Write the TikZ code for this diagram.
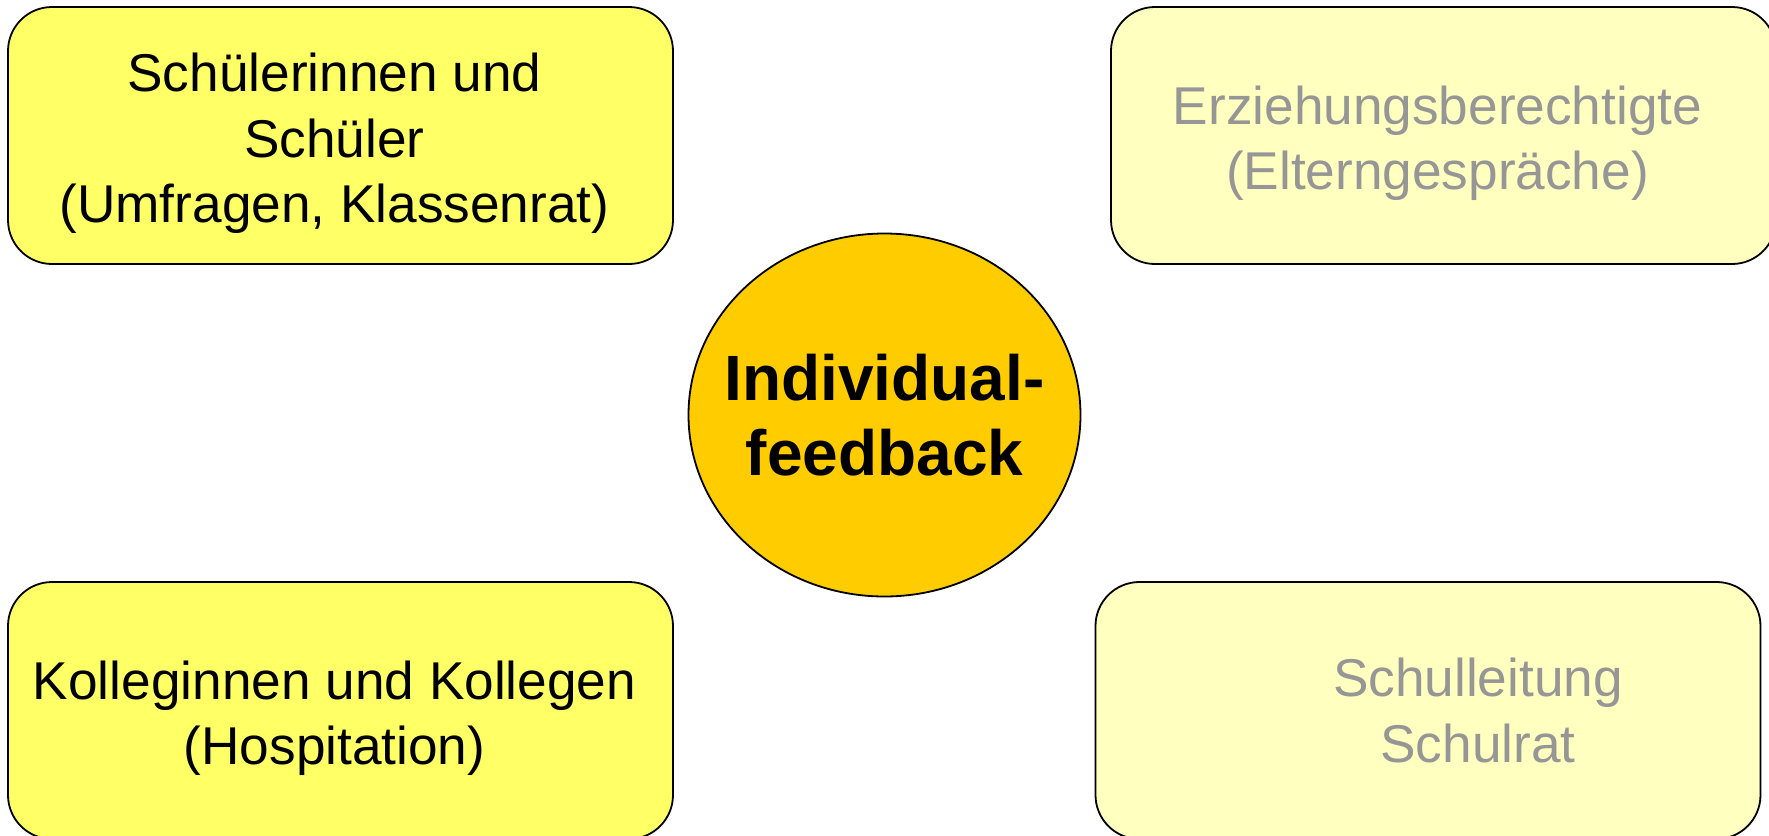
\documentclass[tikz,border=0pt]{standalone}
\usepackage{fontspec}
\setmainfont{Liberation Sans}
\usetikzlibrary{shapes.geometric}
\begin{document}
\begin{tikzpicture}[x=0.5pt,y=-0.5pt]
\tikzset{box/.style={rectangle,rounded corners=22pt,draw=black,line width=0.9pt,
    minimum width=332.5pt,minimum height=128.5pt,inner sep=0pt}}

\definecolor{lemon}{HTML}{FFFF66}
\definecolor{cream}{HTML}{FFFFC0}
\definecolor{amber}{HTML}{FFCC00}
\definecolor{ash}{HTML}{969696}

\tikzset{boxlemon/.style={box,fill=lemon},boxcream/.style={box,fill=cream},
    txt/.style={align=center,inner sep=0pt,font=\fontsize{26.6}{32.7}\selectfont},
    txtash/.style={txt,text=ash}}

\useasboundingbox (0,0) rectangle (1769,836);

\node[boxlemon] (b1) at (340.5,135.5) {};
\node[boxcream] (b2) at (1443.5,135.5) {};
\node[boxlemon] (b3) at (340.5,710.5) {};
\node[boxcream] (b4) at (1428,710.5) {};

\node[txt] (t1) at ([xshift=-3pt,yshift=-4pt]b1.center) {Schülerinnen und\\Schüler\\(Umfragen, Klassenrat)};
\node[txtash] (t2) at ([xshift=-3pt,yshift=-4pt]b2.center) {Erziehungsberechtigte\\(Elterngespräche)};
\node[txt] (t3) at ([xshift=-3pt,yshift=-4pt]b3.center) {Kolleginnen und Kollegen\\(Hospitation)};
\node[txtash] (t4) at ([xshift=25pt]b4.center) {Schulleitung\\Schulrat};

\node[ellipse,draw=black,line width=0.9pt,fill=amber,minimum width=196pt,minimum height=181.5pt,
    inner sep=0pt] (c) at (884.5,415) {};
\node[align=center,inner sep=0pt,font=\bfseries\fontsize{32}{37.8}\selectfont] (tc) at (c.center)
    {Individual-\\feedback};
\end{tikzpicture}
\end{document}
